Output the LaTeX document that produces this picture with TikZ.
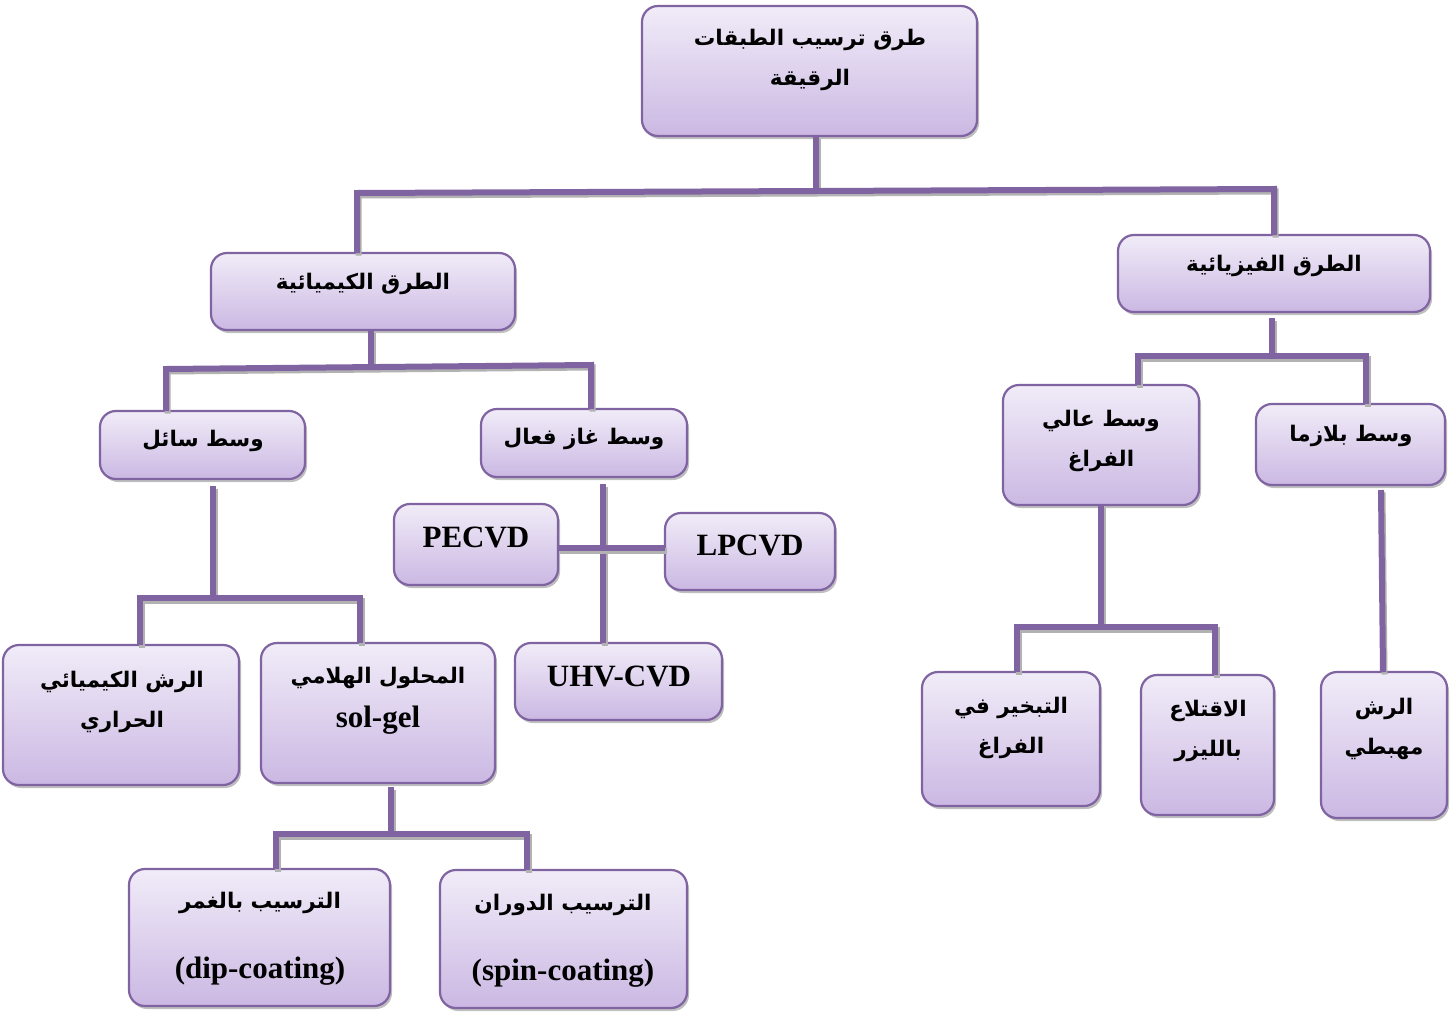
\documentclass[tikz,border=0pt]{standalone}
\usepackage{fontspec}
\setmainfont{Liberation Serif}
\newfontfamily\arab[Script=Arabic]{DejaVu Sans}
\TeXXeTstate=1
\usetikzlibrary{shadows}
\definecolor{pline}{HTML}{8064A2}
\definecolor{ptop}{HTML}{F1ECF8}
\definecolor{pbot}{HTML}{CBB8E3}
\newcommand\AR[1]{\beginR #1\endR}
\newcommand\bx[5]{\node[box, minimum width={(#4-#2)*1pt}, minimum height={(#5-#3)*1pt}] (#1) at ({(#2+#4)/2},{(#3+#5)/2}) {};}
\begin{document}
\begin{tikzpicture}[x=1pt,y=-1pt,
 box/.style={draw=pline, line width=2.2pt, rounded corners=16pt, top color=ptop, bottom color=pbot, inner sep=0pt, outer sep=0pt,
   drop shadow={shadow xshift=2pt, shadow yshift=-3pt, opacity=0.45, fill=black!55}},
 conn/.style={draw=pline, line width=6pt, line join=miter,
   preaction={draw=black!30, line width=6pt, transform canvas={shift={(1.5pt,-2.5pt)}}}},
 ar/.style={font=\arab\bfseries\fontsize{21.5}{40}\selectfont, align=center, inner sep=0pt},
 lt/.style={font=\bfseries\fontsize{31}{40}\selectfont, align=center, inner sep=0pt}]
\useasboundingbox[fill=white] (0,0) rectangle (1454,1012);

% junction coordinates
\coordinate (j0) at (816,191);
\coordinate (jL) at (357,193);
\coordinate (jR) at (1274,189);
\coordinate (c0) at (371,367);
\coordinate (cL) at (166,369);
\coordinate (cR) at (591,365);
\coordinate (l0) at (213,598);
\coordinate (lL) at (140,598);
\coordinate (lR) at (360,598);
\coordinate (g0) at (603,548);
\coordinate (s0) at (391,834);
\coordinate (sL) at (276,834);
\coordinate (sR) at (527,834);
\coordinate (p0) at (1272,356);
\coordinate (pL) at (1138,356);
\coordinate (pR) at (1366,356);
\coordinate (h0) at (1101,627);
\coordinate (hL) at (1017,627);
\coordinate (hR) at (1215,627);
\coordinate (q1) at (1381,490);
\coordinate (q2) at (1383,672);

% boxes
\bx{top}{642}{6}{977}{136}
\bx{chem}{211}{253}{515}{330}
\bx{phys}{1118}{235}{1430}{312}
\bx{liq}{100}{411}{305}{479}
\bx{gas}{481}{409}{687}{477}
\bx{pec}{394}{504}{558}{585}
\bx{lpc}{665}{513}{835}{590}
\bx{uhv}{515}{643}{722}{720}
\bx{spr}{3}{645}{239}{785}
\bx{sol}{261}{643}{495}{783}
\bx{dip}{129}{869}{390}{1006}
\bx{spn}{440}{870}{687}{1008}
\bx{hv}{1003}{385}{1199}{505}
\bx{pla}{1256}{404}{1445}{485}
\bx{eva}{922}{672}{1100}{806}
\bx{las}{1141}{675}{1274}{815}
\bx{spt}{1321}{672}{1447}{818}

% connectors
\draw[conn] (j0 |- top.south) -- (j0);
\draw[conn] (jL |- chem.north) -- (jL) -- (jR) -- (jR |- phys.north);
\draw[conn] (c0 |- chem.south) -- (c0);
\draw[conn] (cL |- liq.north) -- (cL) -- (cR) -- (cR |- gas.north);
\draw[conn] ([yshift=-7pt]l0 |- liq.south) -- (l0);
\draw[conn] (lL |- spr.north) -- (lL) -- (lR) -- (lR |- sol.north);
\draw[conn] ([yshift=-7pt]g0 |- gas.south) -- (g0 |- uhv.north);
\draw[conn] (g0 -| pec.east) -- (g0 -| lpc.west);
\draw[conn] ([yshift=-4pt]s0 |- sol.south) -- (s0);
\draw[conn] (sL |- dip.north) -- (sL) -- (sR) -- (sR |- spn.north);
\draw[conn] ([yshift=-6pt]p0 |- phys.south) -- (p0);
\draw[conn] (pL |- hv.north) -- (pL) -- (pR) -- (pR |- pla.north);
\draw[conn] (h0 |- hv.south) -- (h0);
\draw[conn] (hL |- eva.north) -- (hL) -- (hR) -- (hR |- las.north);
\draw[conn] (q1) -- (q2);

% texts
\node[ar] (ttop) at (810,60) {\AR{طرق ترسيب الطبقات}\\\AR{الرقيقة}};
\node[ar] (tchem) at (363,284) {\AR{الطرق الكيميائية}};
\node[ar] (tphys) at (1274,266) {\AR{الطرق الفيزيائية}};
\node[ar] (tliq) at (203,441) {\AR{وسط سائل}};
\node[ar] (tgas) at (584,439) {\AR{وسط غاز فعال}};
\node[lt] (tpec) at (476,537) {PECVD};
\node[lt] (tlpc) at (750,545) {LPCVD};
\node[lt] (tuhv) at (619,676) {UHV-CVD};
\node[ar] (tspr) at (122,702) {\AR{الرش الكيميائي}\\\AR{الحراري}};
\node[lt, font=\bfseries\fontsize{31}{44}\selectfont] (tsol) at (378,701) {{\arab\fontsize{21.5}{44}\selectfont\AR{المحلول الهلامي}}\\sol-gel};
\node[lt, font=\bfseries\fontsize{31}{42}\selectfont] (tdip) at (260,939) {{\arab\fontsize{21.5}{42}\selectfont\AR{الترسيب بالغمر}}\\[28pt](dip-coating)};
\node[lt, font=\bfseries\fontsize{31}{42}\selectfont] (tspn) at (563,941) {{\arab\fontsize{21.5}{42}\selectfont\AR{الترسيب الدوران}}\\[28pt](spin-coating)};
\node[ar] (thv) at (1101,441) {\AR{وسط عالي}\\\AR{الفراغ}};
\node[ar] (tpla) at (1351,436) {\AR{وسط بلازما}};
\node[ar] (teva) at (1011,728) {\AR{التبخير في}\\\AR{الفراغ}};
\node[ar] (tlas) at (1208,731) {\AR{الاقتلاع}\\\AR{بالليزر}};
\node[ar] (tspt) at (1384,729) {\AR{الرش}\\\AR{مهبطي}};
\end{tikzpicture}
\end{document}
